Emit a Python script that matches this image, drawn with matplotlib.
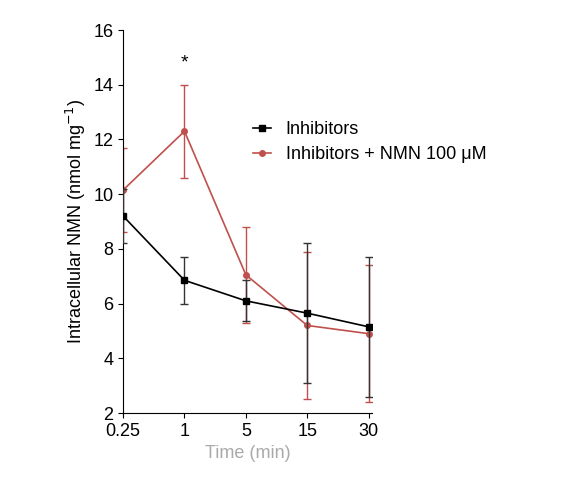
import matplotlib
matplotlib.use("Agg")
import matplotlib.pyplot as plt
from matplotlib.lines import Line2D

times = ["0.25", "1", "5", "15", "30"]
inh = [9.2, 6.85, 6.1, 5.65, 5.15]
inh_err = [1.0, 0.85, 0.75, 2.55, 2.55]
nmn = [10.15, 12.3, 7.05, 5.2, 4.9]
nmn_err = [1.55, 1.7, 1.75, 2.7, 2.5]

plt.rcParams['font.family'] = ['Liberation Sans', 'DejaVu Sans']
fig = plt.figure(figsize=(5.78, 5.0), dpi=100)
ax = fig.add_axes([0.213, 0.174, 0.43, 0.766])
x = list(range(len(times)))
red = '#c0504d'
ax.errorbar(x, nmn, yerr=nmn_err, color=red, marker='o', ms=4, lw=1.2,
            capsize=3, elinewidth=1, zorder=2)
ax.errorbar(x, inh, yerr=inh_err, color='black', marker='s', ms=4, lw=1.2,
            capsize=3, elinewidth=1, ecolor='#333333', zorder=3)
ax.text(1, 14.5, '*', ha='center', va='bottom', fontsize=14)
ax.set_xlim(0, 4.05)
ax.set_ylim(2, 16)
ax.set_yticks(range(2, 17, 2))
ax.set_xticks(x)
ax.set_xticklabels(times)
ax.tick_params(labelsize=13)
ax.spines['top'].set_visible(False)
ax.spines['right'].set_visible(False)
ax.set_xlabel('Time (min)', fontsize=13, color='#aaaaaa')
ax.set_ylabel('Intracellular NMN (nmol mg$^{-1}$)', fontsize=13)
h = [Line2D([], [], color='black', marker='s', ms=4, lw=1.2),
     Line2D([], [], color=red, marker='o', ms=4, lw=1.2)]
fig.legend(h, ['Inhibitors', 'Inhibitors + NMN 100 μM'], loc='upper left',
           bbox_to_anchor=(0.41, 0.79), frameon=False, fontsize=13,
           handlelength=1.0, labelspacing=0.45)
fig.savefig('out.png', dpi=100)
